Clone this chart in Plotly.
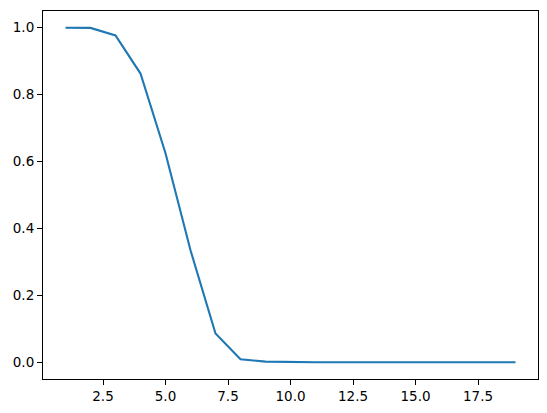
import plotly.graph_objects as go

x_vals = list(range(1, 20))
y_vals = [1.0, 0.9995, 0.977, 0.863, 0.625, 0.335, 0.086, 0.009, 0.002, 0.0005,
          0.0, 0.0, 0.0, 0.0, 0.0, 0.0, 0.0, 0.0, 0.0]

x_ticks = [2.5, 5.0, 7.5, 10.0, 12.5, 15.0, 17.5]
x_tick_labels = ["2.5", "5.0", "7.5", "10.0", "12.5", "15.0", "17.5"]
y_ticks = [0.0, 0.2, 0.4, 0.6, 0.8, 1.0]
y_tick_labels = ["0.0", "0.2", "0.4", "0.6", "0.8", "1.0"]

fig = go.Figure()
fig.add_trace(go.Scatter(x=x_vals, y=y_vals, mode="lines",
                         line=dict(color="#1f77b4", width=2.1), showlegend=False,
                         hoverinfo="skip"))

axis_common = dict(showline=True, linecolor="black", linewidth=1.1, mirror=True,
                   ticks="outside", ticklen=5, tickwidth=1.1, tickcolor="black",
                   showgrid=False, zeroline=False, automargin=False,
                   tickfont=dict(family="DejaVu Sans", size=13.5, color="black"))

fig.update_layout(
    width=547, height=413,
    margin=dict(l=42.5, r=9, t=10.5, b=34, autoexpand=False),
    paper_bgcolor="white", plot_bgcolor="white",
    xaxis=dict(range=[0.1, 19.9], tickvals=x_ticks, ticktext=x_tick_labels, **axis_common),
    yaxis=dict(range=[-0.05, 1.05], tickvals=y_ticks, ticktext=y_tick_labels, **axis_common),
)

fig.write_html("out.html", config={"displayModeBar": False},
               post_script="document.body.style.margin='0';document.body.style.overflow='hidden';")
